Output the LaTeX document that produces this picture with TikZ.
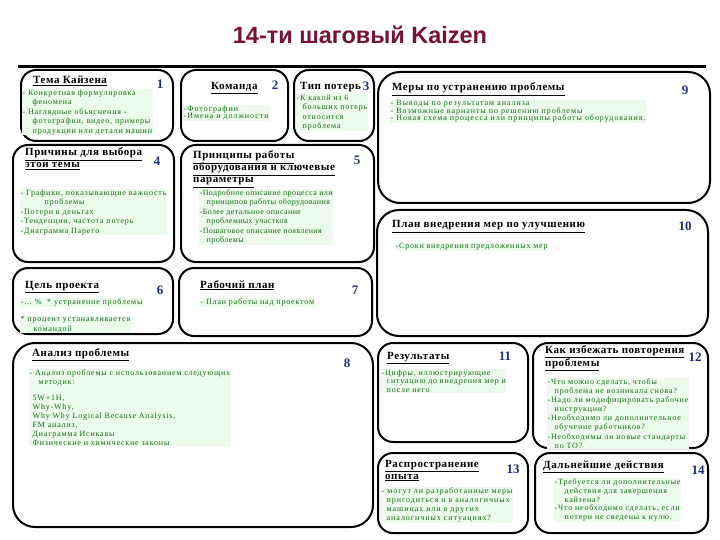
\documentclass[tikz,border=0pt]{standalone}
\usepackage{fontspec}
\setmainfont{Liberation Serif}
\newfontfamily\titlefont{Liberation Sans}
\newfontfamily\bodyfont[LetterSpace=10]{Liberation Serif}
\newfontfamily\widebodyfont[LetterSpace=12]{Liberation Serif}
\newfontfamily\headfont[LetterSpace=5]{Liberation Serif}
\definecolor{titlered}{RGB}{122,16,54}
\definecolor{numblue}{RGB}{31,45,122}
\definecolor{bodygreen}{RGB}{20,105,20}
\definecolor{hlgreen}{RGB}{236,251,236}
\tikzset{
  box/.style={draw=black, line width=2pt, rounded corners=15pt},
  bigbox/.style={draw=black, line width=2pt, rounded corners=22pt},
  hd/.style={anchor=base west, inner sep=0pt, font=\headfont\bfseries\fontsize{11}{12}\selectfont},
  num/.style={anchor=base, inner sep=0pt, text=numblue, font=\bfseries\fontsize{13}{14}\selectfont},
  body/.style={anchor=north west, inner sep=0.5pt, align=left, text=bodygreen, fill=hlgreen,
    font=\bodyfont\fontsize{8}{9.5}\selectfont}
}
\begin{document}
\begin{tikzpicture}[x=1pt,y=-1pt]
\useasboundingbox (0,0) rectangle (720,540);
% title
\node[anchor=base, inner sep=0pt, text=titlered, font=\titlefont\bfseries\fontsize{23.5}{25}\selectfont] (title) at (360,44) {14-ти шаговый Kaizen};
\draw[line width=2.5pt] (18,66.5) -- (706,66.5);
% boxes
\draw[box] (21,70) rectangle (173,141);
\draw[box] (181,70) rectangle (288,141);
\draw[box] (294,70) rectangle (374,141);
\draw[bigbox] (378,72) rectangle (710,203);
\draw[box] (13,145) rectangle (174,262);
\draw[box] (181,145) rectangle (374,262);
\draw[bigbox] (377,210) rectangle (708,336);
\draw[box] (13,268) rectangle (173,334);
\draw[box] (179,268) rectangle (372,336);
\draw[bigbox] (13,343) rectangle (373,527);
\draw[box] (378,343) rectangle (528,442);
\draw[box] (533,343) rectangle (708,448);
\draw[box] (378,453) rectangle (528,533);
\draw[box] (535,453) rectangle (708,533);
% headings
\node[hd] (h1) at (33,84) {\underline{Тема Кайзена}};
\node[hd] (h2) at (211,90) {\underline{Команда}};
\node[hd] (h3) at (300,90) {\underline{Тип потерь}};
\node[hd] (h9) at (392,91) {\underline{Меры по устранению проблемы}};
\node[hd] (h4a) at (25,156) {\underline{Причины для выбора}};
\node[hd] (h4b) at (25,168) {\underline{этой темы}};
\node[hd] (h5a) at (193,159) {\underline{Принципы работы}};
\node[hd] (h5b) at (193,171) {\underline{оборудования и ключевые}};
\node[hd] (h5c) at (193,183) {\underline{параметры}};
\node[hd] (h10) at (392,228) {\underline{План внедрения мер по улучшению}};
\node[hd] (h6) at (25,288) {\underline{Цель проекта}};
\node[hd] (h7) at (200,288) {\underline{Рабочий план}};
\node[hd] (h8) at (32,356) {\underline{Анализ проблемы}};
\node[hd] (h11) at (387,359) {\underline{Результаты}};
\node[hd] (h12a) at (545,353) {\underline{Как избежать повторения}};
\node[hd] (h12b) at (545,366) {\underline{проблемы}};
\node[hd] (h13a) at (385,467) {\underline{Распространение}};
\node[hd] (h13b) at (385,479) {\underline{опыта}};
\node[hd] (h14) at (543,468) {\underline{Дальнейшие действия}};
% numbers
\node[num] (n1) at (160,89) {1};
\node[num] (n2) at (275,90) {2};
\node[num] (n3) at (366,91) {3};
\node[num] (n9) at (685,95) {9};
\node[num] (n4) at (157,166) {4};
\node[num] (n5) at (357,165) {5};
\node[num] (n10) at (685,230) {10};
\node[num] (n6) at (160,294) {6};
\node[num] (n7) at (355,294) {7};
\node[num] (n8) at (347,367) {8};
\node[num] (n11) at (505,360) {11};
\node[num] (n12) at (695,361) {12};
\node[num] (n13) at (513,473) {13};
\node[num] (n14) at (698,474) {14};
% body texts
\node[body] (b1) at (22,89) {- Конкретная формулировка\\\hspace*{10pt}феномена\\- Наглядные объяснения -\\\hspace*{10pt}фотографии, видео, примеры\\\hspace*{10pt}продукции или детали машин};
\node[body, font=\widebodyfont\fontsize{8}{7.5}\selectfont] (b2) at (183,105) {-Фотографии\\-Имена и должности};
\node[body] (b3) at (296,94) {-К какой из 6\\\hspace*{6pt}больших потерь\\\hspace*{6pt}относится\\\hspace*{6pt}проблема};
\node[body, font=\widebodyfont\fontsize{8}{7.5}\selectfont] (b9) at (390,100) {- Выводы по результатам анализа\\- Возможные варианты по решению проблемы\\- Новая схема процесса или принципы работы оборудования.};
\node[body] (b4) at (20,189) {- Графики, показывающие важность\\\hspace*{24pt}проблемы\\-Потери в деньгах\\-Тенденции, частота потерь\\-Диаграмма Парето};
\node[body, font=\headfont\fontsize{8}{9.5}\selectfont] (b5) at (199,189) {-Подробное описание процесса или\\\hspace*{7pt}принципов работы оборудования\\-Более детальное описание\\\hspace*{7pt}проблемных участков\\-Пошаговое описание появления\\\hspace*{7pt}проблемы};
\node[body] (b10) at (395,243) {-Сроки внедрения предложенных мер};
\node[body] (b6a) at (20,298) {-… \%\ \ * устранение проблемы};
\node[body] (b6b) at (20,316) {* процент устанавливается\\\hspace*{13pt}командой};
\node[body] (b7) at (200,298) {- План работы над проектом};
\node[body, font=\bodyfont\fontsize{8}{9}\selectfont] (b8) at (29,369) {- Анализ проблемы с использованием следующих\\\hspace*{9pt}методик:\\[7pt]\hspace*{3pt}5W+1H,\\\hspace*{3pt}Why-Why,\\\hspace*{3pt}Why Why Logical Because Analysis,\\\hspace*{3pt}FM анализ,\\\hspace*{3pt}Диаграмма Исикавы\\\hspace*{3pt}Физические и химические законы};
\node[body, font=\bodyfont\fontsize{8}{8.5}\selectfont] (b11) at (381,369) {-Цифры, иллюстрирующие\\\hspace*{5pt}ситуацию до внедрения мер и\\\hspace*{5pt}после него};
\node[body, font=\bodyfont\fontsize{8}{9.1}\selectfont] (b12) at (547,378) {-Что можно сделать, чтобы\\\hspace*{7pt}проблема не возникала снова?\\-Надо ли модифицировать рабочие\\\hspace*{7pt}инструкции?\\-Необходимо ли дополнительное\\\hspace*{7pt}обучение работников?\\-Необходимы ли новые стандарты\\\hspace*{7pt}по ТО?};
\node[body, font=\widebodyfont\fontsize{8}{9}\selectfont] (b13) at (381,487) {- могут ли разработанные меры\\\hspace*{5pt}пригодиться и в аналогичных\\\hspace*{5pt}машинах или в других\\\hspace*{5pt}аналогичных ситуациях?};
\node[body, font=\bodyfont\fontsize{8}{8.8}\selectfont] (b14) at (554,478) {-Требуется ли дополнительные\\\hspace*{10pt}действия для завершения\\\hspace*{10pt}кайзена?\\-Что необходимо сделать, если\\\hspace*{10pt}потери не сведены к нулю.};
\end{tikzpicture}
\end{document}
